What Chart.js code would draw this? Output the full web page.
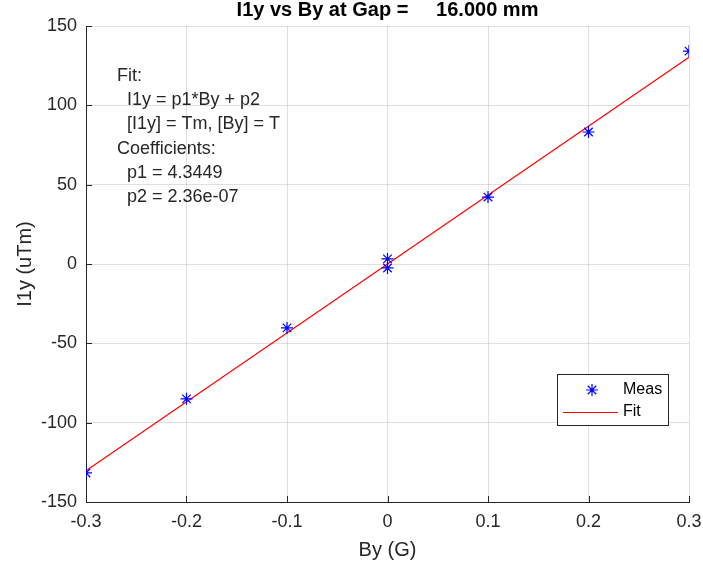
<!DOCTYPE html>
<html>
<head>
<meta charset="utf-8">
<script src="https://cdn.jsdelivr.net/npm/chart.js@4.4.1/dist/chart.umd.min.js"></script>
<style>
  html, body { margin: 0; padding: 0; background: #fff; }
</style>
</head>
<body>
<canvas id="grafica" width="703" height="567"></canvas>
<script>
// measured points
const byMeas = [-0.3, -0.2, -0.1, 0, 0, 0.1, 0.2, 0.3];
const i1yMeas = [-131.7, -85.0, -40.3, 3.2, -2.5, 42.2, 83.2, 134.2];
// fit line end points
const byFit = [-0.3, 0.3];
const i1yFit = [-130.3, 130.3];

const xTicks = [-0.3, -0.2, -0.1, 0, 0.1, 0.2, 0.3];
const yTicks = [-150, -100, -50, 0, 50, 100, 150];

const fitText = [
    'Fit:',
    '  I1y = p1*By + p2',
    '  [I1y] = Tm, [By] = T',
    'Coefficients:',
    '  p1 = 4.3449',
    '  p2 = 2.36e-07'
];

const font = '"Liberation Sans", Arial, Helvetica, sans-serif';
const textColor = '#262626';
const measColor = '#0000ff';
const fitColor = '#ff0000';

const toPoints = (xs, ys) => xs.map((x, i) => ({ x: x, y: ys[i] }));

// ticks pointing inwards, like matlab
const innerTicks = {
    id: 'innerTicks',
    afterDatasetsDraw(chart) {
        const { ctx, chartArea, scales } = chart;
        ctx.save();
        ctx.strokeStyle = textColor;
        ctx.lineWidth = 1;
        ctx.beginPath();
        xTicks.forEach(v => {
            const px = Math.round(scales.x.getPixelForValue(v)) + 0.5;
            ctx.moveTo(px, chartArea.bottom);
            ctx.lineTo(px, chartArea.bottom - 6);
        });
        yTicks.forEach(v => {
            const py = Math.round(scales.y.getPixelForValue(v)) + 0.5;
            ctx.moveTo(chartArea.left, py);
            ctx.lineTo(chartArea.left + 6, py);
        });
        ctx.stroke();
        ctx.restore();
    }
};

const fitNote = {
    id: 'fitNote',
    afterDatasetsDraw(chart) {
        const { ctx, chartArea } = chart;
        ctx.save();
        ctx.font = '18px ' + font;
        ctx.fillStyle = textColor;
        ctx.textBaseline = 'middle';
        fitText.forEach((line, i) => {
            ctx.fillText(line, chartArea.left + 31, chartArea.top + 50 + i * 24.2);
        });
        ctx.restore();
    }
};

const boxLegend = {
    id: 'boxLegend',
    afterDraw(chart) {
        const { ctx, chartArea } = chart;
        const meas = chart.data.datasets[0];
        const fit = chart.data.datasets[1];
        const x0 = Math.round(chartArea.right - 132);
        const y0 = Math.round(chartArea.bottom - 128);
        ctx.save();
        ctx.fillStyle = '#fff';
        ctx.fillRect(x0, y0, 111, 51);
        ctx.strokeStyle = textColor;
        ctx.lineWidth = 1;
        ctx.strokeRect(x0 + 0.5, y0 + 0.5, 111, 51);

        ctx.strokeStyle = measColor;
        ctx.fillStyle = measColor;
        ctx.lineWidth = 1.2;
        Chart.helpers.drawPoint(ctx, {
            pointStyle: 'star',
            radius: 6,
            borderWidth: 1.2
        }, x0 + 35, y0 + 16);

        ctx.beginPath();
        ctx.strokeStyle = fitColor;
        ctx.lineWidth = 1;
        ctx.moveTo(x0 + 6, y0 + 38.5);
        ctx.lineTo(x0 + 61, y0 + 38.5);
        ctx.stroke();

        ctx.font = '16px ' + font;
        ctx.fillStyle = '#000';
        ctx.textBaseline = 'middle';
        ctx.fillText(meas.label, x0 + 66, y0 + 16);
        ctx.fillText(fit.label, x0 + 66, y0 + 38);
        ctx.restore();
    }
};

const graph = document.querySelector('#grafica');

const data = {
    datasets: [
        {
            label: 'Meas',
            data: toPoints(byMeas, i1yMeas),
            showLine: false,
            pointStyle: 'star',
            pointRadius: 6,
            borderWidth: 1.2,
            borderColor: measColor,
            backgroundColor: measColor
        },
        {
            label: 'Fit',
            data: toPoints(byFit, i1yFit),
            showLine: true,
            pointRadius: 0,
            borderWidth: 1.1,
            borderColor: fitColor,
            backgroundColor: fitColor
        }
    ]
};

const config = {
    type: 'scatter',
    data: data,
    options: {
        responsive: false,
        animation: false,
        devicePixelRatio: 1,
        layout: { padding: { left: 0, right: 14, top: 0, bottom: 0 } },
        plugins: {
            legend: { display: false },
            tooltip: { enabled: false },
            title: {
                display: true,
                fullSize: false,
                text: 'I1y vs By at Gap =     16.000 mm',
                color: '#000',
                font: { family: font, size: 20, weight: 'bold', lineHeight: 1 },
                padding: { top: 0, bottom: 6 }
            }
        },
        scales: {
            x: {
                type: 'linear',
                min: -0.3,
                max: 0.3,
                afterFit(scale) {
                    scale.height = 65;
                    scale.paddingLeft = 0;
                    scale.paddingRight = 0;
                },
                afterBuildTicks(scale) { scale.ticks = xTicks.map(v => ({ value: v })); },
                ticks: {
                    color: textColor,
                    padding: 9,
                    maxRotation: 0,
                    font: { family: font, size: 18 },
                    callback: v => String(Math.round(v * 10) / 10)
                },
                grid: { color: 'rgba(38,38,38,0.15)', drawTicks: false },
                border: { display: true, color: textColor },
                title: {
                    display: true,
                    text: 'By (G)',
                    color: textColor,
                    font: { family: font, size: 20 },
                    padding: { top: 0, bottom: 5 }
                }
            },
            y: {
                type: 'linear',
                min: -150,
                max: 150,
                afterFit(scale) {
                    scale.width = 86;
                    scale.paddingTop = 0;
                    scale.paddingBottom = 0;
                },
                afterBuildTicks(scale) { scale.ticks = yTicks.map(v => ({ value: v })); },
                ticks: {
                    color: textColor,
                    padding: 9,
                    font: { family: font, size: 18 },
                    callback: v => String(v)
                },
                grid: { color: 'rgba(38,38,38,0.15)', drawTicks: false },
                border: { display: true, color: textColor },
                title: {
                    display: true,
                    text: 'I1y (uTm)',
                    color: textColor,
                    font: { family: font, size: 20 },
                    padding: { top: 13, bottom: 0 }
                }
            }
        }
    },
    plugins: [innerTicks, fitNote, boxLegend]
};

const myChart = new Chart(graph, config);
</script>
</body>
</html>
